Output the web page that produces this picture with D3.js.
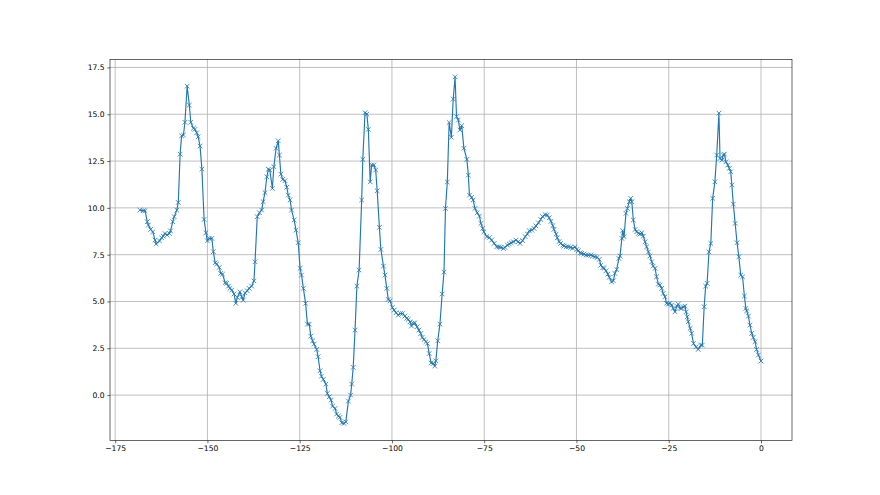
<!DOCTYPE html>
<html>
<head>
<meta charset="utf-8">
<script src="https://cdn.jsdelivr.net/npm/d3@7"></script>
<style>
  html, body { margin: 0; padding: 0; background: #fff; }
  svg { display: block; }
  text { font-family: "DejaVu Sans", sans-serif; }
</style>
</head>
<body>
<svg id="chart" width="880" height="495"></svg>
<script>
// ---- data ----
const xs = [
-168.3,-167.4,-166.9,-166.3,-166.0,-165.4,-164.8,-164.2,-163.9,-163.0,-162.4,-162.0,-161.5,-160.9,-160.3,-160.0,
-159.4,-159.0,-158.3,-157.9,-157.4,-157.0,-156.5,-156.1,-155.5,-154.9,-154.5,-153.8,-153.4,-152.9,-152.5,-152.0,
-151.5,-150.9,-150.4,-150.0,-149.5,-148.8,-148.4,-147.9,-147.5,-146.8,-146.4,-145.9,-145.2,-144.8,-144.3,-143.9,
-143.4,-142.8,-142.3,-141.9,-141.2,-140.7,-140.3,-139.8,-139.2,-138.7,-138.0,-137.4,
-137.1,-136.5,-135.9,-135.3,-134.9,-134.4,-133.9,-133.5,-133.1,-132.4,-132.0,-131.4,-130.8,-130.5,-130.1,-129.6,
-129.0,-128.5,-128.1,-127.6,-127.2,-126.5,-126.0,-125.4,-124.9,-124.5,-124.0,-123.4,-122.9,-122.4,-122.0,-121.5,
-121.1,-120.4,-120.0,-119.5,-119.1,-118.6,-117.9,-117.5,-117.0,-116.5,-116.1,-115.4,-115.0,-114.5,-114.1,-113.6,
-113.0,-112.5,-111.8,-111.2,-110.9,-110.5,-110.0,-109.5,-108.9,-108.2,-107.9,-107.3,-106.8,-106.4,-105.9,-105.5,
-104.9,-104.4,-104.0,-103.4,-103.0,-102.3,-101.9,-101.4,-101.0,-100.5,-99.9,-99.4,-98.9,-98.3,-97.7,-97.1,
-96.5,-96.0,-95.6,-95.1,-94.7,-94.2,-93.8,-93.2,-92.7,-92.2,-91.8,-91.3,-90.8,-90.4,-89.9,-89.4,
-88.8,-88.4,-88.1,-87.6,-87.0,-86.4,-85.9,-85.5,-85.0,-84.5,-83.9,-83.4,-82.9,-82.5,-82.0,-81.6,
-81.1,-80.5,-79.7,-79.3,-79.0,-78.4,-78.0,-77.5,-76.9,-76.3,-75.9,-75.4,-75.1,-74.3,-73.6,-73.0,
-72.3,-71.6,-71.0,-70.5,-69.8,-69.4,-68.7,-68.2,-67.7,-67.1,-66.4,-65.8,-65.3,-64.6,-63.9,-63.3,
-62.8,-62.1,-61.5,-61.0,-60.3,-59.7,-59.2,-58.5,-57.9,-57.4,-56.9,-56.4,-56.1,-55.5,-55.2,-54.7,
-54.3,-53.7,-53.4,-52.8,-52.2,-51.6,-51.0,-50.4,-49.9,-49.5,-49.0,-48.6,-48.0,-47.4,-46.8,-46.1,
-45.6,-45.0,-44.4,-43.8,-43.4,-42.9,-42.5,-42.0,-41.5,-41.1,-40.5,-40.0,-39.6,-39.1,-38.5,-38.2,
-37.7,-37.5,-37.1,-36.6,-36.2,-35.7,-35.3,-35.0,-34.6,-34.1,-33.7,-33.2,-32.8,-32.3,-31.9,-31.4,
-31.0,-30.5,-30.1,-29.6,-29.2,-28.7,-28.3,-27.8,-27.4,-26.9,-26.5,-26.0,-25.6,-25.1,-24.7,-24.2,
-23.8,-23.3,-22.8,-22.4,-21.9,-21.5,-21.1,-20.6,-20.3,-20.0,-19.7,-19.2,-18.8,-18.3,-17.6,-17.0,
-16.3,-15.9,-15.4,-15.0,-14.6,-14.1,-13.6,-13.1,-12.5,-12.0,-11.4,-11.1,-10.6,-10.2,-9.9,-9.5,
-9.0,-8.6,-8.2,-7.9,-7.5,-7.0,-6.5,-6.0,-5.5,-5.0,-4.5,-4.1,-3.9,-3.4,-3.0,-2.5,
-2.1,-1.6,-1.2,-0.7,0.0
];
const ys = [
9.88,9.85,9.85,9.26,9.08,8.85,8.72,8.28,8.07,8.24,8.40,8.49,8.63,8.55,8.63,8.77,
9.26,9.53,9.88,10.29,12.87,13.85,13.89,14.57,16.5,15.49,14.57,14.25,14.19,14.01,13.8,13.3,
12.07,9.38,8.67,8.24,8.37,8.37,7.66,7.07,7.0,6.82,6.5,6.46,6.0,5.97,5.82,5.7,
5.61,5.4,4.9,5.22,5.52,5.25,5.07,5.46,5.57,5.7,5.82,6.1,
7.12,9.53,9.74,9.88,10.33,10.81,11.66,12.06,12.02,11.04,12.2,13.18,13.58,12.82,11.8,11.52,
11.45,11.1,10.68,10.42,9.88,9.35,8.81,8.14,6.77,6.41,5.7,4.9,3.79,3.79,3.15,2.9,
2.72,2.44,2.05,1.3,1.01,0.84,0.59,0.09,-0.09,-0.27,-0.59,-0.71,-1.01,-1.12,-1.19,-1.48,
-1.51,-1.43,-0.32,0.0,0.59,1.48,3.47,5.82,6.68,10.42,12.59,15.08,15.01,14.19,11.39,12.29,
12.29,12.02,10.91,8.96,7.78,6.89,6.41,5.7,5.11,5.04,4.68,4.54,4.4,4.27,4.36,4.36,
4.22,4.1,4.04,3.91,3.69,3.83,3.86,3.65,3.47,3.29,3.08,2.97,2.85,2.76,2.22,1.72,
1.69,1.55,1.83,2.9,3.79,5.4,6.57,9.97,11.38,14.56,13.77,15.81,17.0,14.87,14.69,14.16,
14.39,13.18,12.59,11.75,10.68,10.56,10.42,9.97,9.74,9.56,9.17,8.9,8.72,8.46,8.42,8.28,
8.1,7.92,7.92,7.89,7.83,7.89,8.01,8.07,8.14,8.19,8.28,8.19,8.1,8.25,8.46,8.6,
8.78,8.81,8.9,9.04,9.2,9.38,9.54,9.64,9.62,9.47,9.28,9.05,8.85,8.6,8.4,8.2,
8.1,8.01,7.96,7.92,7.92,7.89,7.84,7.92,7.78,7.71,7.6,7.57,7.53,7.48,7.48,7.48,
7.43,7.39,7.36,7.25,6.94,6.8,6.77,6.64,6.46,6.29,6.05,6.11,6.5,6.71,7.3,7.43,
8.37,8.78,8.46,9.71,9.97,10.33,10.51,10.33,9.35,8.85,8.72,8.64,8.6,8.67,8.49,8.19,
7.92,7.65,7.43,7.12,6.89,6.77,6.32,5.93,5.88,5.7,5.43,5.25,4.9,4.86,4.9,4.81,
4.63,4.45,4.75,4.86,4.63,4.63,4.72,4.75,4.45,4.18,3.92,3.56,3.3,2.76,2.58,2.44,
2.67,2.67,4.72,5.82,5.97,7.65,8.1,10.51,11.39,12.82,15.06,12.64,12.55,12.82,12.87,12.46,
12.29,12.11,11.93,11.22,10.2,9.17,8.14,7.39,6.41,6.32,5.29,4.63,4.5,4.22,3.74,3.3,
3.08,2.85,2.44,2.14,1.82
];
const xTicks = [-175, -150, -125, -100, -75, -50, -25, 0];
const yTicks = [0.0, 2.5, 5.0, 7.5, 10.0, 12.5, 15.0, 17.5];
const xLimits = [-176.4, 8.4];
const yLimits = [-2.43, 17.93];

// ---- layout ----
const W = 880, H = 495;
const padL = 110, padR = 792, padT = 59.4, padB = 440.6;
const lineColor = "#1f77b4";
const fmtNum = v => (v < 0 ? "\u2212" : "") + Math.abs(v);

const svg = d3.select("#chart");
svg.append("rect").attr("width", W).attr("height", H).attr("fill", "#fff");

const x = d3.scaleLinear().domain(xLimits).range([padL, padR]);
const y = d3.scaleLinear().domain(yLimits).range([padB, padT]);

// grid
const grid = svg.append("g");
grid.selectAll("line.gx").data(xTicks).join("line").attr("class", "gx")
  .attr("x1", d => x(d)).attr("x2", d => x(d))
  .attr("y1", padT).attr("y2", padB)
  .attr("stroke", "#b0b0b0").attr("stroke-width", 0.8);
grid.selectAll("line.gy").data(yTicks).join("line").attr("class", "gy")
  .attr("y1", d => y(d)).attr("y2", d => y(d))
  .attr("x1", padL).attr("x2", padR)
  .attr("stroke", "#b0b0b0").attr("stroke-width", 0.8);

// data line
const pts = xs.map((v, i) => [v, ys[i]]);
svg.append("clipPath").attr("id", "plotclip").append("rect")
  .attr("x", padL).attr("y", padT).attr("width", padR - padL).attr("height", padB - padT);
const plot = svg.append("g").attr("clip-path", "url(#plotclip)");
plot.append("path")
  .datum(pts)
  .attr("fill", "none")
  .attr("stroke", lineColor)
  .attr("stroke-width", 1.15)
  .attr("stroke-linejoin", "round")
  .attr("d", d3.line().x(d => x(d[0])).y(d => y(d[1])));

// x markers
const ms = 2.3;
plot.append("g").selectAll("path").data(pts).join("path")
  .attr("transform", d => `translate(${x(d[0])},${y(d[1])})`)
  .attr("d", `M${-ms},${-ms}L${ms},${ms}M${-ms},${ms}L${ms},${-ms}`)
  .attr("stroke", lineColor)
  .attr("stroke-width", 0.8)
  .attr("fill", "none");

// axes
const xAxis = d3.axisBottom(x).tickValues(xTicks).tickSize(2.7).tickPadding(2.7)
  .tickFormat(fmtNum);
const yAxis = d3.axisLeft(y).tickValues(yTicks).tickSize(2.7).tickPadding(2.7)
  .tickFormat(d => (d < 0 ? "\u2212" : "") + Math.abs(d).toFixed(1));

const gx = svg.append("g").attr("transform", `translate(0,${padB})`).call(xAxis);
const gy = svg.append("g").attr("transform", `translate(${padL},0)`).call(yAxis);
[gx, gy].forEach(g => {
  g.select(".domain").remove();
  g.selectAll(".tick line").attr("stroke", "#000").attr("stroke-width", 0.6);
  g.selectAll(".tick text").attr("fill", "#000")
    .style("font-family", "'DejaVu Sans', sans-serif").style("font-size", "7.6px");
});

// spines
svg.append("rect")
  .attr("x", padL).attr("y", padT)
  .attr("width", padR - padL).attr("height", padB - padT)
  .attr("fill", "none").attr("stroke", "#000").attr("stroke-width", 0.6);
</script>
</body>
</html>
